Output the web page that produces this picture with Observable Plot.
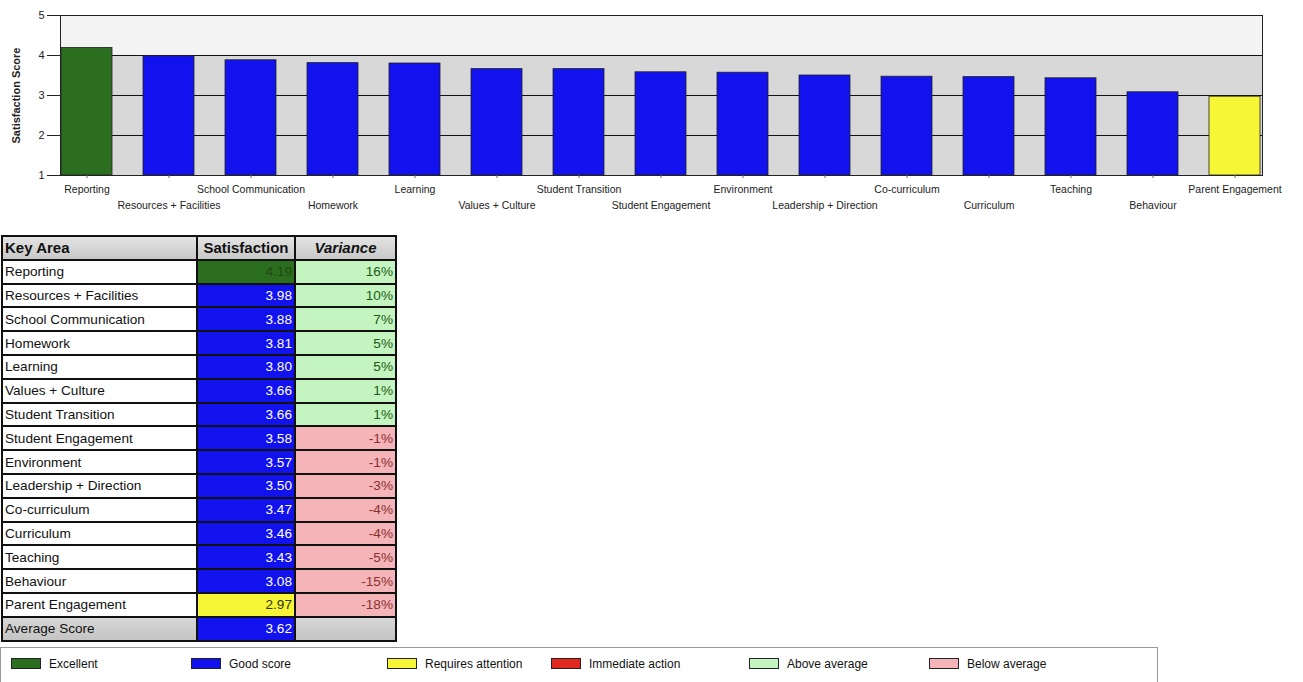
<!DOCTYPE html>
<html>
<head>
<meta charset="utf-8">
<script src="https://cdn.jsdelivr.net/npm/d3@7"></script>
<script src="https://cdn.jsdelivr.net/npm/@observablehq/plot@0.6"></script>
<style>
  body { margin: 0; background: #fff; font-family: "Liberation Sans", Arial, sans-serif; }
  #chart svg { display: block; }
  table { border-collapse: collapse; margin-top: 13px; margin-left: 1px; font-size: 13.6px; color: #111; table-layout: fixed; }
  tr { height: 23.8px; }
  td, th { border: 2px solid #111; padding: 0 2px; white-space: nowrap; overflow: hidden; }
  th { background: linear-gradient(#e4e4e4, #c8c8c8); font-size: 15px; text-align: left; }
  th.c2 { text-align: center; }
  th.c3 { text-align: center; font-style: italic; }
  td.num { text-align: right; }
  #legend { position: relative; margin-top: 5px; width: 1156px; height: 40px; border: 1px solid #999; font-size: 12px; color: #111; }
  .item { position: absolute; top: 9px; display: flex; align-items: center; }
  .sw { width: 28px; height: 9px; border: 1px solid #222; margin-right: 8px; }
</style>
</head>
<body>
<div id="chart"></div>
<div id="table"></div>
<div id="legend"></div>
<script>
const areas = ["Reporting","Resources + Facilities","School Communication","Homework","Learning","Values + Culture","Student Transition","Student Engagement","Environment","Leadership + Direction","Co-curriculum","Curriculum","Teaching","Behaviour","Parent Engagement"];
const scores = [4.19,3.98,3.88,3.81,3.80,3.66,3.66,3.58,3.57,3.50,3.47,3.46,3.43,3.08,2.97];
const variances = [16,10,7,5,5,1,1,-1,-1,-3,-4,-4,-5,-15,-18];
const levels = ["Excellent","Good score","Good score","Good score","Good score","Good score","Good score","Good score","Good score","Good score","Good score","Good score","Good score","Good score","Requires attention"];
const averageScore = 3.62;
const averageLevel = "Good score";
const yTicks = [1,2,3,4,5];
const legendLabels = ["Excellent","Good score","Requires attention","Immediate action","Above average","Below average"];

const levelColors = {"Excellent":"#2c6e1f","Good score":"#1212ee","Requires attention":"#f6f636","Immediate action":"#e0281e","Above average":"#c4f5c0","Below average":"#f4b4b8"};
const levelText = {"Excellent":"#1c4a12","Good score":"#ffffff","Requires attention":"#333300"};

const data = areas.map((a,i) => ({area:a, score:scores[i], variance:variances[i], level:levels[i], idx:i}));
const evenAreas = areas.filter((a,i) => i % 2 === 0);
const oddAreas = areas.filter((a,i) => i % 2 === 1);

const chart = Plot.plot({
  width: 1303,
  height: 222,
  marginLeft: 60,
  marginRight: 41,
  marginTop: 15,
  marginBottom: 47,
  style: {fontFamily: "Liberation Sans, Arial, sans-serif", fontSize: "10px", color: "#222"},
  x: {domain: areas, paddingInner: 0.375, paddingOuter: 0, axis: null, label: null},
  y: {domain: [1,5], axis: null},
  color: {domain: Object.keys(levelColors), range: Object.values(levelColors)},
  marks: [
    Plot.rect([{a:1,b:4}], {y1:"a", y2:"b", fill:"#d8d8d8"}),
    Plot.rect([{a:4,b:5}], {y1:"a", y2:"b", fill:"#f3f3f3"}),
    Plot.ruleY([2,3,4,5], {stroke:"#111", strokeWidth:1}),
    Plot.barY(data, {x:"area", y1:1, y2:"score", fill:"level", stroke:"#222", strokeWidth:0.8}),
    Plot.frame({stroke:"#222", strokeWidth:1}),
    Plot.axisY(yTicks, {tickSize:13, tickPadding:3, fontSize:11, label:"Satisfaction Score", labelAnchor:"center", labelArrow:"none", labelOffset:48, tickFormat: d3.format("d")}),
    Plot.axisX(areas, {tickSize:3, text:null, stroke:"#666", label:null}),
    Plot.axisX(evenAreas, {tickSize:0, tickPadding:10, fontSize:10.5, label:null}),
    Plot.axisX(oddAreas, {tickSize:0, tickPadding:26, fontSize:10.5, label:null})
  ]
});
d3.select(chart).selectAll("g[aria-label='y-axis label'] text").attr("font-weight","bold");
document.getElementById("chart").appendChild(chart);

// Table
const table = d3.select("#table").append("table");
const head = table.append("tr");
head.append("th").style("width","189px").text("Key Area");
head.append("th").attr("class","c2").style("width","92px").text("Satisfaction");
head.append("th").attr("class","c3").style("width","95px").text("Variance");
data.forEach(d => {
  const tr = table.append("tr");
  tr.append("td").text(d.area);
  tr.append("td").attr("class","num")
    .style("background", levelColors[d.level])
    .style("color", levelText[d.level])
    .text(d3.format(".2f")(d.score));
  const above = d.variance > 0;
  tr.append("td").attr("class","num")
    .style("background", above ? levelColors["Above average"] : levelColors["Below average"])
    .style("color", above ? "#1b5a14" : "#8a3030")
    .text(d.variance + "%");
});
const avg = table.append("tr");
avg.append("td").style("background","linear-gradient(#d6d6d6,#c4c4c4)").text("Average Score");
avg.append("td").attr("class","num").style("background", levelColors[averageLevel]).style("color", levelText[averageLevel]).text(d3.format(".2f")(averageScore));
avg.append("td").style("background","linear-gradient(#d6d6d6,#c4c4c4)");

// Legend
const legendX = [10,190,386,550,748,928];
const legend = d3.select("#legend");
legendLabels.forEach((l,i) => {
  const it = legend.append("div").attr("class","item").style("left", legendX[i] + "px");
  it.append("div").attr("class","sw").style("background", levelColors[l]);
  it.append("span").text(l);
});
</script>
</body>
</html>
